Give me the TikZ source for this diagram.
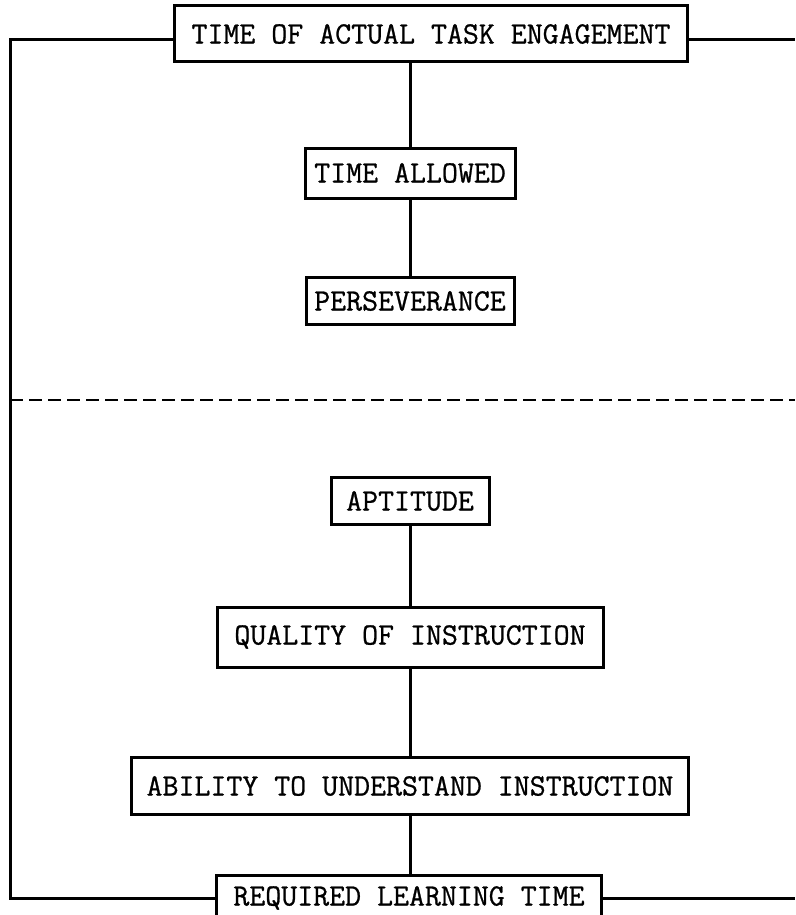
\documentclass[tikz,border=0pt]{standalone}
\usepackage{fontspec}
\newfontfamily\twfont[FakeBold=0.8]{Latin Modern Mono}
\begin{document}
\begin{tikzpicture}[x=1pt,y=-1pt,
  box/.style={draw, line width=3pt, inner sep=0pt, font=\fontsize{31}{37}\selectfont\twfont, anchor=center},
  conn/.style={line width=3pt},
  sep/.style={line width=2.8pt, dash pattern=on 13pt off 6pt}]
\useasboundingbox (0,0) rectangle (795,915);
\clip (0,0) rectangle (795,915);
\node[box, minimum width=513pt, minimum height=56pt] (tate) at (431,34) {TIME OF ACTUAL TASK ENGAGEMENT};
\node[box, minimum width=210pt, minimum height=50pt] (ta) at (410,173) {TIME ALLOWED};
\node[box, minimum width=208pt, minimum height=47pt] (pe) at (410,301) {PERSEVERANCE};
\node[box, minimum width=158pt, minimum height=47pt] (ap) at (410,501) {APTITUDE};
\node[box, minimum width=386pt, minimum height=60pt] (qi) at (410,637) {QUALITY OF INSTRUCTION};
\node[box, minimum width=557pt, minimum height=57pt] (ab) at (410,786) {ABILITY TO UNDERSTAND INSTRUCTION};
\node[box, minimum width=385pt, minimum height=46pt] (rl) at (409,898) {REQUIRED LEARNING TIME};
\coordinate (TR) at (795,40);
\coordinate (BR) at (795,895);
\coordinate (DL) at (10,400);
\coordinate (DR) at (795,400);
\draw[conn] (ta.north) -- (ta.north |- tate.south);
\draw[conn] (ta.south) -- (pe.north);
\draw[conn] (ap.south) -- (qi.north);
\draw[conn] (qi.south) -- (ab.north);
\draw[conn] (ab.south) -- (ab.south |- rl.north);
\draw[conn] (tate.west |- TR) -- (DL |- TR) -- (DL |- rl.west) -- (rl.west);
\draw[conn] (tate.east |- TR) -- (TR);
\draw[conn] (rl.east) -- (BR |- rl.east);
\draw[sep] (DL) -- (DR);
\end{tikzpicture}
\end{document}
